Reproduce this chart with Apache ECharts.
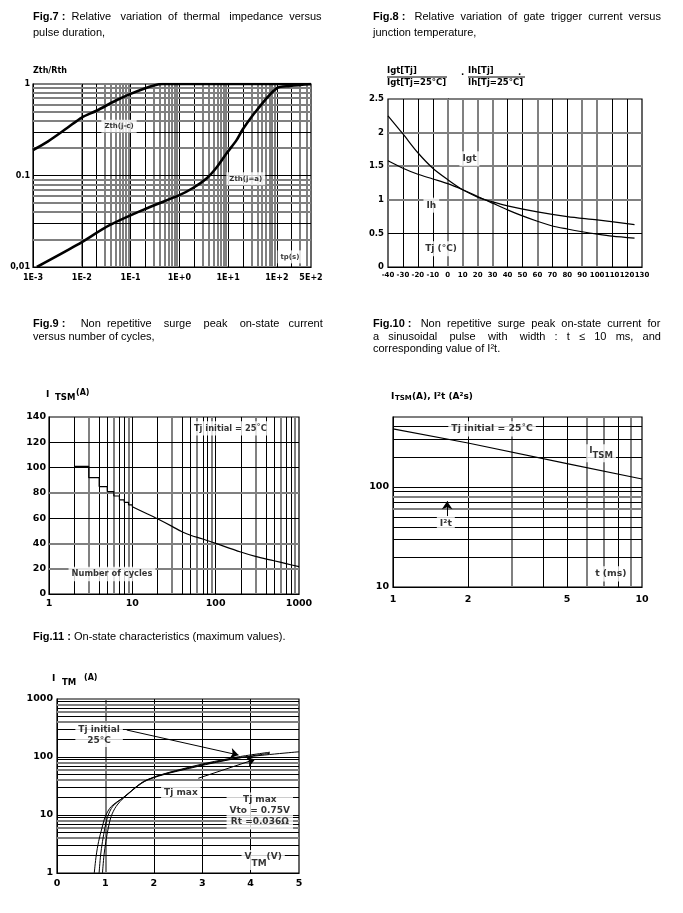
<!DOCTYPE html>
<html><head><meta charset="utf-8">
<script src="https://cdn.jsdelivr.net/npm/echarts@6/dist/echarts.min.js"></script>
<style>html,body{margin:0;padding:0;background:#fff}#c{width:683px;height:913px}</style>
</head><body><div id="c"></div>
<script>
// ---------------- DATA ----------------
// Fig.7 thermal impedance
const fig7TpJC   = [0.001,0.002,0.005,0.01,0.02,0.05,0.1,0.2,0.3,0.45,500];
const fig7ZthJC  = [0.19,0.235,0.33,0.43,0.51,0.66,0.78,0.9,0.965,1,1];
const fig7TpJA   = [0.0012,0.008,0.038,0.25,1,1.9,3.7,5.9,9.4,15,20,39,100,185,500];
const fig7ZthJA  = [0.01,0.0174,0.0288,0.0453,0.061,0.073,0.094,0.124,0.176,0.245,0.32,0.52,0.9,0.95,1];
const fig7XTicks = [0.001,0.01,0.1,1,10,100,500];
const fig7XLabels= ['1E-3','1E-2','1E-1','1E+0','1E+1','1E+2','5E+2'];
const fig7YTicks = [0.01,0.1,1];
const fig7YLabels= ['0,01','0.1','1'];

// Fig.8 relative gate trigger / holding current
const fig8TjIgt = [-40,-30,-20,-10,0,10,20,25,30,40,50,60,70,80,90,100,110,125];
const fig8Igt   = [2.25,1.98,1.70,1.47,1.30,1.15,1.04,1.0,0.95,0.85,0.76,0.68,0.61,0.565,0.525,0.49,0.46,0.43];
const fig8TjIh  = [-40,-30,-20,-10,0,10,20,25,30,40,60,80,100,125];
const fig8Ih    = [1.58,1.47,1.38,1.31,1.24,1.15,1.05,1.0,0.97,0.91,0.82,0.75,0.70,0.63];

// Fig.9 surge current vs number of cycles
const fig9CyclesStep = [2,3,4,5,6,7,8,9,10];
const fig9ItsmStep   = [101,92,85,81,77.5,74.5,72.5,70.5,69];
const fig9Cycles     = [10,15,20,30,40,50,70,100,200,300,500,700,1000];
const fig9Itsm       = [69,63.5,59.5,53.5,49,46.5,43.5,40,33.2,29.7,26.3,24,21.6];

// Fig.10 surge current vs pulse width
const fig10T      = [1,2,5,10];
const fig10Itsm   = [380,275,171,120];
const fig10XTicks = [1,2,5,10];
const fig10YTicks = [10,100];

// Fig.11 on-state characteristics
const fig11V_A = [0.77,0.81,0.86,0.93,1.0,1.12,1.37,1.85,2.8,3.7,5.0];
const fig11I_A = [1,2,3.5,6,9.5,14,20,40,67,95,123];
const fig11V_B = [0.87,0.9,0.94,0.99,1.05,1.15,1.37,1.85,2.8,3.7,4.4];
const fig11I_B = [1,2,3.5,6,9.5,14,20,40,69,99,121];
const fig11V_C = [0.94,0.97,1.01,1.06,1.12,1.22,1.4,1.87,2.85,3.75,4.4];
const fig11I_C = [1,2,3.5,6,9.5,14,20.5,40,67,96,116];

// ---------------- HELPERS ----------------
const FT = '"Liberation Sans", Arial, sans-serif';
const FB = '"DejaVu Sans", sans-serif';
const zip = (a, b) => a.map((v, i) => [v, b[i]]);
const BLACK = {color:'#000', width:1, type:'solid'};
const GRAY  = {color:'#808080', width:2, type:'solid'};

function logLines(min, max, black) {
  const out = [];
  for (let e = Math.floor(Math.log10(min)); e <= Math.ceil(Math.log10(max)); e++) {
    for (let n = 1; n <= 9; n++) {
      const v = +(n * Math.pow(10, e)).toPrecision(6);
      if (v > min * 1.0001 && v < max * 0.9999) out.push({v, b: black.includes(n)});
    }
  }
  return out;
}
function linLines(min, max, step, blackVals) {
  const out = [];
  for (let v = min + step; v < max - 1e-9; v += step) {
    const r = +v.toFixed(6);
    out.push({v: r, b: blackVals.includes(r)});
  }
  return out;
}
function gridSeries(idx, xs, ys) {
  return {
    type:'line', xAxisIndex:idx, yAxisIndex:idx, data:[], z:1, silent:true,
    markLine:{
      z:1, silent:true, symbol:['none','none'], animation:false, label:{show:false},
      emphasis:{disabled:true},
      data: xs.map(g => ({xAxis:g.v, lineStyle: g.b ? BLACK : GRAY}))
        .concat(ys.map(g => ({yAxis:g.v, lineStyle: g.b ? BLACK : GRAY})))
    }
  };
}
function labelSeries(idx, items, size) {
  return {
    type:'scatter', xAxisIndex:idx, yAxisIndex:idx, symbolSize:1, z:6, silent:true, clip:false,
    itemStyle:{color:'rgba(0,0,0,0)'},
    data: items.map(it => ({value:[it.x, it.y], label: Object.assign({formatter: it.t}, it.s || {})})),
    label:{show:true, position:'inside', color:'#000', fontFamily:FB, fontWeight:'bold',
      fontSize:size, backgroundColor:'#fff', padding:[2,3], lineHeight:size+2}
  };
}
function curve(idx, data, width, extra) {
  return Object.assign({type:'line', xAxisIndex:idx, yAxisIndex:idx, data, z:4, silent:true,
    showSymbol:false, symbol:'none', lineStyle:{color:'#000', width}, smooth:0.3}, extra || {});
}
const axLine = {show:true, lineStyle:{color:'#000', width:1}};
function lab(size, extra) {
  return Object.assign({color:'#000', fontFamily:FB, fontWeight:'bold', fontSize:size}, extra || {});
}
const plain = v => String(v);
const tStyle = {fontFamily:FT, fontSize:11, fontWeight:'normal', color:'#000', lineHeight:14,
  rich:{b:{fontFamily:FT, fontSize:11, fontWeight:'bold', color:'#000'}}};
function T(left, top, text) { return {left, top, text, textStyle:tStyle, padding:0}; }

// ---------------- OPTION ----------------
const option = {
  animation:false,
  backgroundColor:'#fff',
  title:[
    T(33, 10, '{b|Fig.7} {b|:}  Relative   variation  of  thermal   impedance  versus'),
    T(33, 26, 'pulse duration,'),
    T(373, 10, '{b|Fig.8} {b|:}   Relative  variation  of  gate  trigger  current  versus'),
    T(373, 26, 'junction temperature,'),
    T(33, 317, '{b|Fig.9} {b|:}     Non  repetitive    surge    peak    on-state   current'),
    T(33, 330, 'versus number of cycles,'),
    T(373, 317, '{b|Fig.10} {b|:}   Non  repetitive  surge  peak  on-state  current  for'),
    T(373, 330, 'a   sinusoidal    pulse    with    width   :   t   \u2264   10   ms,   and'),
    T(373, 342, 'corresponding value of I\u00b2t.'),
    T(33, 630, '{b|Fig.11} {b|:} On-state characteristics (maximum values).')
  ],
  graphic:[
    {type:'text', left:33, top:67, style:{text:'Zth/Rth', font:'bold 8px "DejaVu Sans"', fill:'#000'}},
    // Fig.8 header fractions
    {type:'text', left:387, top:66, style:{text:'Igt[Tj]', font:'bold 8.5px "DejaVu Sans"', fill:'#000'}},
    {type:'line', shape:{x1:387, y1:77, x2:447, y2:77}, style:{stroke:'#000', lineWidth:1}},
    {type:'text', left:387, top:78, style:{text:'Igt[Tj=25\u00b0C]', font:'bold 8.5px "DejaVu Sans"', fill:'#000'}},
    {type:'text', left:461, top:68, style:{text:'.', font:'bold 8.5px "DejaVu Sans"', fill:'#000'}},
    {type:'text', left:468, top:66, style:{text:'Ih[Tj]', font:'bold 8.5px "DejaVu Sans"', fill:'#000'}},
    {type:'text', left:518, top:68, style:{text:'.', font:'bold 8.5px "DejaVu Sans"', fill:'#000'}},
    {type:'line', shape:{x1:468, y1:77, x2:525, y2:77}, style:{stroke:'#000', lineWidth:1}},
    {type:'text', left:468, top:78, style:{text:'Ih[Tj=25\u00b0C]', font:'bold 8.5px "DejaVu Sans"', fill:'#000'}},
    // Fig.9 axis title
    {type:'text', left:46, top:390, style:{text:'I', font:'bold 9px "DejaVu Sans"', fill:'#000'}},
    {type:'text', left:55, top:393, style:{text:'TSM', font:'bold 8.5px "DejaVu Sans"', fill:'#000'}},
    {type:'text', left:76, top:389, style:{text:'(A)', font:'bold 8px "DejaVu Sans"', fill:'#000'}},
    // Fig.10 axis title
    {type:'text', left:391, top:392, style:{text:'I', font:'bold 9px "DejaVu Sans"', fill:'#000'}},
    {type:'text', left:395, top:395, style:{text:'TSM', font:'bold 7px "DejaVu Sans"', fill:'#000'}},
    {type:'text', left:412, top:392, style:{text:'(A), I\u00b2t (A\u00b2s)', font:'bold 9px "DejaVu Sans"', fill:'#000'}},
    // Fig.11 axis title
    {type:'text', left:52, top:674, style:{text:'I', font:'bold 9px "DejaVu Sans"', fill:'#000'}},
    {type:'text', left:62, top:678, style:{text:'TM', font:'bold 8.5px "DejaVu Sans"', fill:'#000'}},
    {type:'text', left:84, top:674, style:{text:'(A)', font:'bold 8px "DejaVu Sans"', fill:'#000'}}
  ],
  grid:[
    {left:33, top:84, width:278, height:183},
    {left:388, top:99, width:254, height:168},
    {left:49, top:417, width:250, height:177},
    {left:393, top:417, width:249, height:170},
    {left:57, top:699, width:242, height:174}
  ].map(g => Object.assign(g, {show:true, borderColor:'#000', borderWidth:1.2, backgroundColor:'transparent', z:0})),
  xAxis:[
    {gridIndex:0, type:'log', logBase:10, min:0.001, max:500, axisLine:axLine, axisTick:{show:false}, splitLine:{show:false},
     axisLabel:lab(8, {margin:7, showMinLabel:true, showMaxLabel:true,
       formatter:v => { const i = fig7XTicks.findIndex(t => Math.abs(Math.log10(t) - Math.log10(v)) < 1e-6); return i >= 0 ? fig7XLabels[i] : ''; }})},
    {gridIndex:1, type:'value', min:-40, max:130, interval:10, axisLine:axLine, axisTick:{show:false}, splitLine:{show:false},
     axisLabel:lab(7, {margin:5, showMinLabel:true, showMaxLabel:true})},
    {gridIndex:2, type:'log', logBase:10, min:1, max:1000, axisLine:axLine, axisTick:{show:false}, splitLine:{show:false},
     axisLabel:lab(9.5, {margin:5, formatter:plain})},
    {gridIndex:3, type:'log', logBase:10, min:1, max:10, axisLine:axLine, axisTick:{show:false}, splitLine:{show:false},
     axisLabel:lab(9.5, {margin:8, customValues:fig10XTicks, formatter:plain})},
    {gridIndex:4, type:'value', min:0, max:5, interval:1, axisLine:axLine, axisTick:{show:false}, splitLine:{show:false},
     axisLabel:lab(9.5, {margin:6})}
  ],
  yAxis:[
    {gridIndex:0, type:'log', logBase:10, min:0.01, max:1, axisLine:axLine, axisTick:{show:false}, splitLine:{show:false},
     axisLabel:lab(8, {margin:3, showMinLabel:true, showMaxLabel:true,
       formatter:v => { const i = fig7YTicks.findIndex(t => Math.abs(Math.log10(t) - Math.log10(v)) < 1e-6); return i >= 0 ? fig7YLabels[i] : ''; }})},
    {gridIndex:1, type:'value', min:0, max:2.5, interval:0.5, axisLine:axLine, axisTick:{show:false}, splitLine:{show:false},
     axisLabel:lab(8.5, {margin:4, showMinLabel:true, showMaxLabel:true})},
    {gridIndex:2, type:'value', min:0, max:140, interval:20, axisLine:axLine, axisTick:{show:false}, splitLine:{show:false},
     axisLabel:lab(9.5, {margin:3, showMinLabel:true, showMaxLabel:true})},
    {gridIndex:3, type:'log', logBase:10, min:10, max:500, axisLine:axLine, axisTick:{show:false}, splitLine:{show:false},
     axisLabel:lab(9.5, {margin:4, formatter:v => fig10YTicks.some(t => Math.abs(t - v) < 1e-6) ? String(v) : ''})},
    {gridIndex:4, type:'log', logBase:10, min:1, max:1000, axisLine:axLine, axisTick:{show:false}, splitLine:{show:false},
     axisLabel:lab(9.5, {margin:4, showMinLabel:true, showMaxLabel:true, formatter:plain})}
  ],
  series:[
    // ---- grid lines ----
    gridSeries(0, logLines(0.001, 500, [1,2]), logLines(0.01, 1, [1,3])),
    gridSeries(1, linLines(-40, 130, 10, [-30,-20,-10,40,50,70,80,110,120]), linLines(0, 2.5, 0.5, [0.5])),
    gridSeries(2, logLines(1, 1000, [1,2,4,5,7,8]), linLines(0, 140, 20, [60,100,120])),
    gridSeries(3, logLines(1, 10, [1,2,4,5,8]), logLines(10, 500, [1,2,3,4,5,7,9])),
    gridSeries(4, linLines(0, 5, 1, [2,3,4]), logLines(1, 1000, [1,2,3,5,7,9])),

    // ---- Fig.7 ----
    curve(0, zip(fig7TpJC, fig7ZthJC), 2.6),
    curve(0, zip(fig7TpJA, fig7ZthJA), 2.6),
    labelSeries(0, [
      {x:0.058, y:0.345, t:'Zth(j-c)'},
      {x:23, y:0.092, t:'Zth(j=a)'},
      {x:185, y:0.0129, t:'tp(s)'}
    ], 7),

    // ---- Fig.8 ----
    curve(1, zip(fig8TjIgt, fig8Igt), 1.2),
    curve(1, zip(fig8TjIh, fig8Ih), 1.2),
    labelSeries(1, [
      {x:14.5, y:1.61, t:'Igt'},
      {x:-11, y:0.92, t:'Ih'},
      {x:-4.5, y:0.27, t:'Tj (\u00b0C)'}
    ], 9),

    // ---- Fig.9 ----
    curve(2, zip(fig9CyclesStep, fig9ItsmStep), 1.2, {smooth:false, step:'end'}),
    curve(2, zip(fig9Cycles, fig9Itsm), 1.2),
    labelSeries(2, [
      {x:150, y:131, t:'Tj initial = 25\u02daC'},
      {x:5.7, y:15.8, t:'Number of cycles'}
    ], 8.3),

    // ---- Fig.10 ----
    curve(3, zip(fig10T, fig10Itsm), 1.2, {smooth:false}),
    labelSeries(3, [
      {x:2.5, y:380, t:'Tj initial = 25\u02daC'},
      {x:6.85, y:217, t:'{a|I}{s|TSM}', s:{rich:{a:{fontFamily:FB, fontWeight:'bold', fontSize:9, lineHeight:10, verticalAlign:'top'}, s:{fontFamily:FB, fontWeight:'bold', fontSize:8.5, lineHeight:14, verticalAlign:'bottom'}}}},
      {x:7.5, y:13.5, t:'t (ms)'},
      {x:1.63, y:43, t:'I\u00b2t'}
    ], 9.3),
    {type:'lines', coordinateSystem:'cartesian2d', xAxisIndex:3, yAxisIndex:3, z:5, silent:true,
     symbol:['none','arrow'], symbolSize:[7,8], lineStyle:{color:'#000', width:1, opacity:1},
     data:[{coords:[[1.65,51],[1.65,72]]}]},

    // ---- Fig.11 ----
    curve(4, zip(fig11V_A, fig11I_A), 1),
    curve(4, zip(fig11V_B, fig11I_B), 1),
    curve(4, zip(fig11V_C, fig11I_C), 1),
    {type:'lines', coordinateSystem:'cartesian2d', xAxisIndex:4, yAxisIndex:4, z:5, silent:true,
     symbol:['none','arrow'], symbolSize:[6,8], lineStyle:{color:'#000', width:1, opacity:1},
     data:[{coords:[[1.44,292],[3.75,108]]}, {coords:[[2.92,43],[4.09,91]]}]},
    labelSeries(4, [
      {x:0.87, y:240, t:'Tj initial\n25\u00b0C', s:{padding:[1,3], lineHeight:11}},
      {x:2.56, y:24.4, t:'Tj max'},
      {x:4.19, y:11.7, t:'Tj max\nVto = 0.75V\nRt =0.036\u03a9', s:{lineHeight:11, padding:[2,3]}},
      {x:4.26, y:1.67, t:'{a|V}{s|TM}{a|(V)}', s:{rich:{a:{fontFamily:FB, fontWeight:'bold', fontSize:9, lineHeight:10, verticalAlign:'top'}, s:{fontFamily:FB, fontWeight:'bold', fontSize:9, lineHeight:16, verticalAlign:'bottom'}}}}
    ], 9)
  ]
};

const chart = echarts.init(document.getElementById('c'), null, {renderer:'canvas'});
chart.setOption(option);
</script>
</body></html>
